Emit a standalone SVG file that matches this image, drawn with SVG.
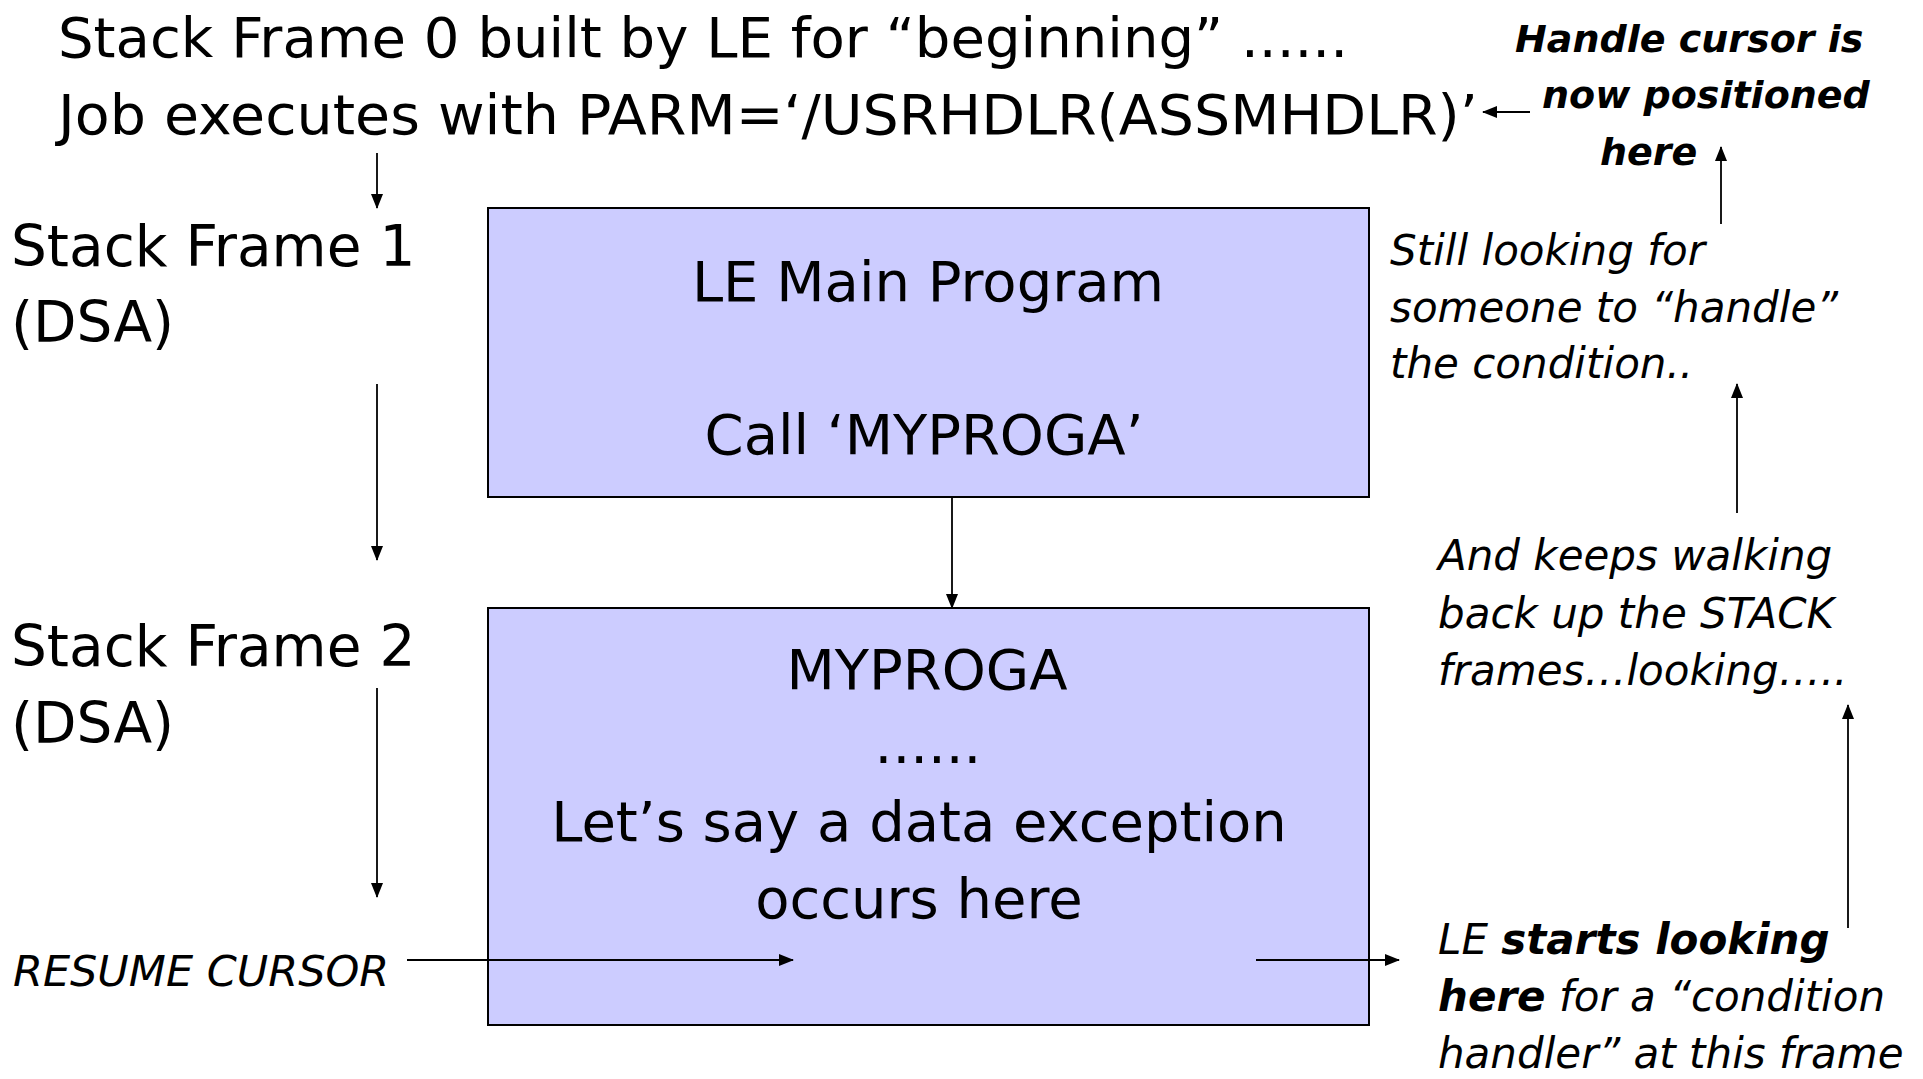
<svg xmlns="http://www.w3.org/2000/svg" width="1923" height="1079" viewBox="0 0 1923 1079">
<style>
text{font-family:"DejaVu Sans",Verdana,sans-serif;fill:#000}
.big{font-size:56px}
.lbl{font-size:56.5px}
.it{font-size:42px;font-style:italic}
.res{font-size:43px;font-style:italic}
.bi{font-size:38px;font-style:italic;font-weight:bold}
.b{font-weight:bold}
.box{fill:#CCCCFF;stroke:#000;stroke-width:2}
.con line{stroke:#000;stroke-width:1.8;fill:none}
</style>
<defs>
<marker id="ah" markerUnits="userSpaceOnUse" markerWidth="15" markerHeight="12" refX="14" refY="6" orient="auto">
<path d="M0,0 L15,6 L0,12 z" fill="#000"/>
</marker>
</defs>
<rect width="1923" height="1079" fill="#fff"/>

<g id="title">
<text class="big" x="58" y="57" textLength="1290" lengthAdjust="spacingAndGlyphs">Stack Frame 0 built by LE for “beginning” ......</text>
<text class="big" x="58" y="134" textLength="1420" lengthAdjust="spacingAndGlyphs">Job executes with PARM=‘/USRHDLR(ASSMHDLR)’</text>
</g>

<g id="frame1-label">
<text class="lbl" x="11" y="266">Stack Frame 1</text>
<text class="lbl" x="11" y="342">(DSA)</text>
</g>

<g id="frame2-label">
<text class="lbl" x="11" y="666">Stack Frame 2</text>
<text class="lbl" x="11" y="743">(DSA)</text>
</g>

<g id="resume-cursor">
<text class="res" x="13" y="986">RESUME CURSOR</text>
</g>

<g id="le-main">
<rect class="box" x="488" y="208" width="881" height="289"/>
<text class="big" x="928" y="301" text-anchor="middle">LE Main Program</text>
<text class="big" x="924" y="454" text-anchor="middle">Call ‘MYPROGA’</text>
</g>

<g id="myproga">
<rect class="box" x="488" y="608" width="881" height="417"/>
<text class="big" x="927" y="689" text-anchor="middle">MYPROGA</text>
<text class="big" x="928" y="763" text-anchor="middle">......</text>
<text class="big" x="919" y="841" text-anchor="middle">Let’s say a data exception</text>
<text class="big" x="919" y="918" text-anchor="middle">occurs here</text>
</g>

<g id="handle-cursor">
<text class="bi" x="1515" y="52">Handle cursor is</text>
<text class="bi" x="1542" y="108">now positioned</text>
<text class="bi" x="1600" y="165">here</text>
</g>

<g id="still-looking">
<text class="it" x="1390" y="265">Still looking for</text>
<text class="it" x="1390" y="322">someone to “handle”</text>
<text class="it" x="1390" y="378">the condition..</text>
</g>

<g id="keeps-walking">
<text class="it" x="1438" y="570">And keeps walking</text>
<text class="it" x="1438" y="628">back up the STACK</text>
<text class="it" x="1438" y="685">frames…looking…..</text>
</g>

<g id="starts-looking">
<text class="it" x="1438" y="954">LE <tspan class="b">starts looking</tspan></text>
<text class="it" x="1438" y="1011"><tspan class="b">here</tspan> for a “condition</text>
<text class="it" x="1438" y="1068">handler” at this frame</text>
</g>

<g id="connectors" class="con">
<line x1="377" y1="153" x2="377" y2="208" marker-end="url(#ah)"/>
<line x1="377" y1="384" x2="377" y2="560" marker-end="url(#ah)"/>
<line x1="377" y1="688" x2="377" y2="897" marker-end="url(#ah)"/>
<line x1="952" y1="497" x2="952" y2="608" marker-end="url(#ah)"/>
<line x1="407" y1="960" x2="793" y2="960" marker-end="url(#ah)"/>
<line x1="1256" y1="960" x2="1399" y2="960" marker-end="url(#ah)"/>
<line x1="1848" y1="928" x2="1848" y2="705" marker-end="url(#ah)"/>
<line x1="1737" y1="513" x2="1737" y2="384" marker-end="url(#ah)"/>
<line x1="1721" y1="224" x2="1721" y2="147" marker-end="url(#ah)"/>
<line x1="1530" y1="112" x2="1483" y2="112" marker-end="url(#ah)"/>
</g>
</svg>
